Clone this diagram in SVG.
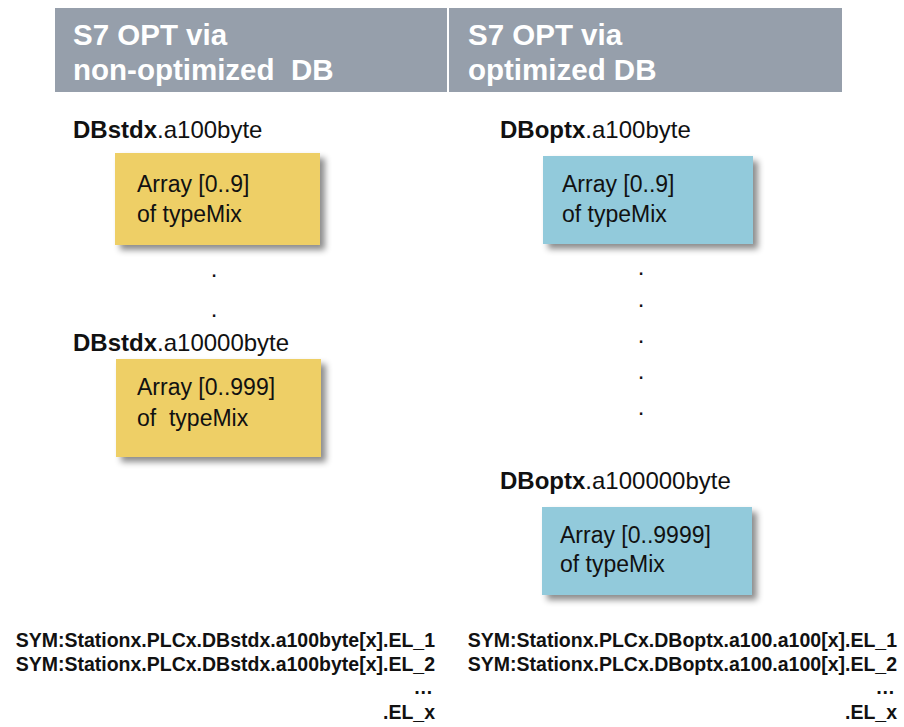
<svg xmlns="http://www.w3.org/2000/svg" width="904" height="727" viewBox="0 0 904 727">
<defs>
<filter id="sh" x="-10%" y="-10%" width="130%" height="140%">
<feDropShadow dx="5" dy="5" stdDeviation="3" flood-color="#000" flood-opacity="0.45"/>
</filter>
</defs>
<style>
text{font-family:"Liberation Sans",Arial,sans-serif;fill:#111}
.hd{fill:#969fab}
.ht{fill:#fff;font-weight:bold;font-size:29.5px}
.lbl{font-size:24px}
.b{font-weight:bold}
.y{fill:#eecf66;filter:url(#sh)}
.bl{fill:#92cadb;filter:url(#sh)}
.bt{font-size:23px}
.dot{font-size:24px;text-anchor:middle}
.sym{font-size:19.5px;font-weight:bold;text-anchor:end}
</style>
<rect width="904" height="727" fill="#fff"/>
<g id="header-left">
<rect class="hd" x="55" y="8" width="392" height="84"/>
<text class="ht" x="73" y="45">S7 OPT via</text>
<text class="ht" x="73" y="80" xml:space="preserve">non-optimized  DB</text>
</g>
<g id="header-right">
<rect class="hd" x="449" y="8" width="393" height="84"/>
<text class="ht" x="468" y="45">S7 OPT via</text>
<text class="ht" x="468" y="80">optimized DB</text>
</g>
<g id="left-db1">
<text class="lbl" x="73" y="138"><tspan class="b">DBstdx</tspan>.a100byte</text>
<rect class="y" x="115" y="153" width="205" height="92"/>
<text class="bt" x="137" y="192">Array [0..9]</text>
<text class="bt" x="137" y="222">of typeMix</text>
</g>
<g id="left-dots">
<text class="dot" x="214" y="277">.</text>
<text class="dot" x="214" y="317">.</text>
</g>
<g id="left-db2">
<text class="lbl" x="73" y="351"><tspan class="b">DBstdx</tspan>.a10000byte</text>
<rect class="y" x="116" y="359" width="205" height="98"/>
<text class="bt" x="137" y="395">Array [0..999]</text>
<text class="bt" x="137" y="426" xml:space="preserve">of  typeMix</text>
</g>
<g id="right-db1">
<text class="lbl" x="500" y="138"><tspan class="b">DBoptx</tspan>.a100byte</text>
<rect class="bl" x="543" y="156" width="210" height="88"/>
<text class="bt" x="562" y="192">Array [0..9]</text>
<text class="bt" x="562" y="222">of typeMix</text>
</g>
<g id="right-dots">
<text class="dot" x="641" y="275">.</text>
<text class="dot" x="641" y="307">.</text>
<text class="dot" x="641" y="343">.</text>
<text class="dot" x="641" y="379">.</text>
<text class="dot" x="641" y="415">.</text>
</g>
<g id="right-db2">
<text class="lbl" x="500" y="489"><tspan class="b">DBoptx</tspan>.a100000byte</text>
<rect class="bl" x="542" y="507" width="210" height="88"/>
<text class="bt" x="560" y="543">Array [0..9999]</text>
<text class="bt" x="560" y="572">of typeMix</text>
</g>
<g id="left-sym">
<text class="sym" x="435" y="647">SYM:Stationx.PLCx.DBstdx.a100byte[x].EL_1</text>
<text class="sym" x="435" y="671">SYM:Stationx.PLCx.DBstdx.a100byte[x].EL_2</text>
<text class="sym" x="433" y="694">…</text>
<text class="sym" x="435" y="719">.EL_x</text>
</g>
<g id="right-sym">
<text class="sym" x="897" y="647">SYM:Stationx.PLCx.DBoptx.a100.a100[x].EL_1</text>
<text class="sym" x="897" y="671">SYM:Stationx.PLCx.DBoptx.a100.a100[x].EL_2</text>
<text class="sym" x="895" y="694">…</text>
<text class="sym" x="897" y="719">.EL_x</text>
</g>
<g id="connectors"></g>
</svg>
